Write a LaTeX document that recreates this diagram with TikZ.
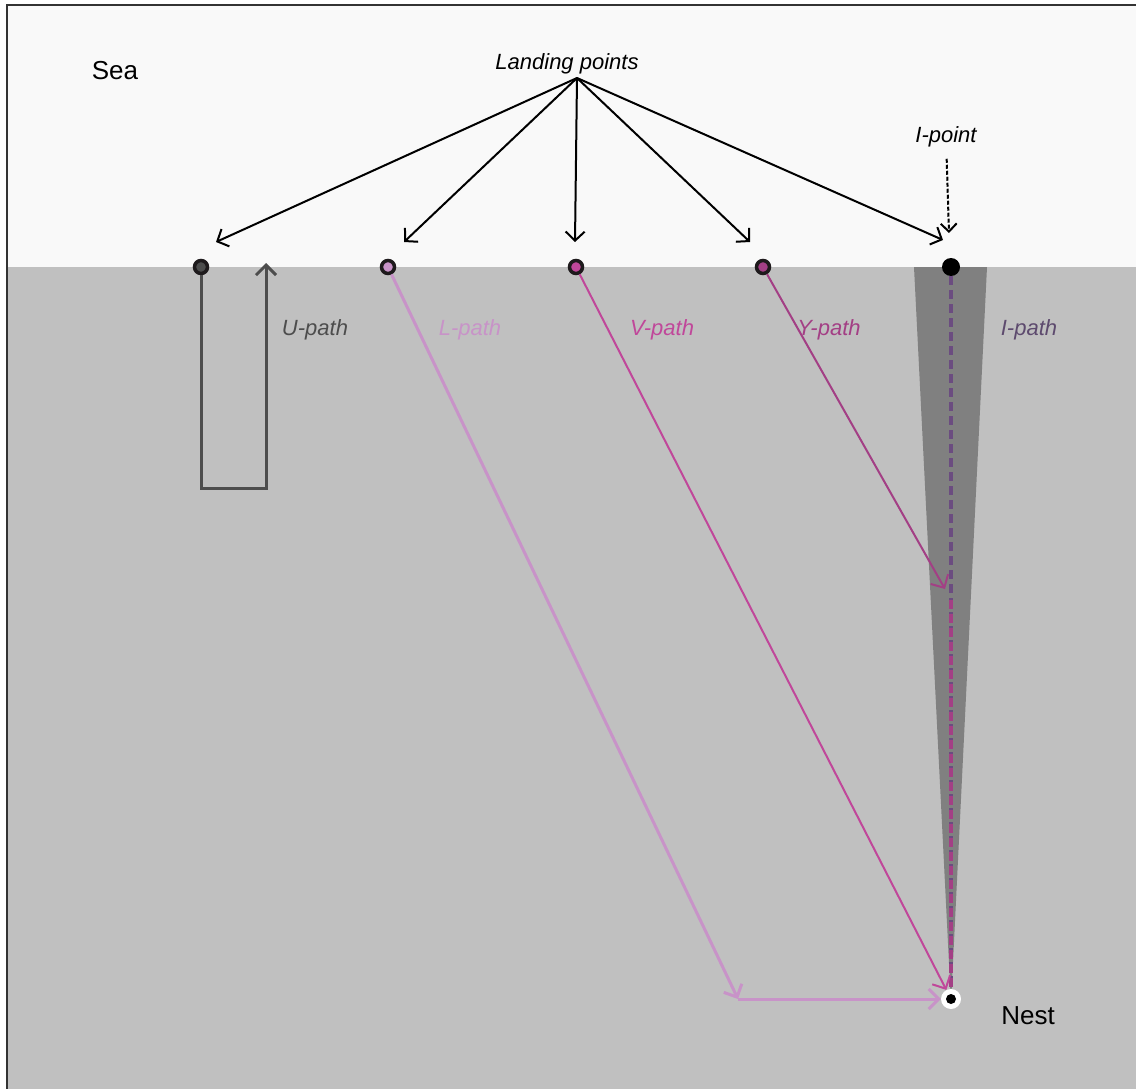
\documentclass[tikz,border=0pt]{standalone}
\usepackage{fontspec}
\setmainfont{Liberation Sans}
\usetikzlibrary{arrows.meta}
\definecolor{seacol}{HTML}{F9F9F9}
\definecolor{landcol}{HTML}{C0C0C0}
\definecolor{framecol}{HTML}{333333}
\definecolor{wedgecol}{HTML}{808080}
\definecolor{ucol}{HTML}{4D4D4D}
\definecolor{lcol}{HTML}{C893C8}
\definecolor{vcol}{HTML}{C0479A}
\definecolor{ycol}{HTML}{A33F85}
\definecolor{icol}{HTML}{6B4C80}
\definecolor{ilabel}{HTML}{5D4A6E}
\definecolor{dotring}{HTML}{1E1A1C}
\begin{document}
\begin{tikzpicture}[x=1pt,y=-1pt,
  ldot/.style={circle, draw=dotring, line width=3.5pt, minimum size=13pt, inner sep=0pt},
  lbl/.style={font=\fontsize{22}{24}\selectfont\itshape, anchor=base, inner sep=0pt},
  big/.style={font=\fontsize{26}{28}\selectfont, anchor=base, inner sep=0pt},
  ptr/.style={black, line width=2pt, -{Straight Barb[length=9pt,width=19pt]}},
  tipb/.style={-{Straight Barb[length=10pt,width=20pt]}}
]
\useasboundingbox (0,0) rectangle (1136,1089);
\fill[white] (0,0) rectangle (1136,1089);
\fill[seacol] (8,5) rectangle (1136,267);
\fill[landcol] (8,267) rectangle (1136,1089);
\draw[framecol, line width=2.5pt] (7,1089) -- (7,5) -- (1136,5);

% I-path wedge
\fill[wedgecol] (914,267) -- (987,267) -- (951,1003) -- cycle;

% texts
\node[big] (sea) at (115,80) {Sea};
\node[big] (nestlbl) at (1028,1024) {Nest};
\node[lbl] (landing) at (567,70) {Landing points};
\node[lbl] (ipoint) at (946,143) {I-point};
\node[lbl, text=ucol] (ulbl) at (315,335) {U-path};
\node[lbl, text=lcol] (llbl) at (470,335) {L-path};
\node[lbl, text=vcol] (vlbl) at (662,335) {V-path};
\node[lbl, text=ycol] (ylbl) at (829,335) {Y-path};
\node[lbl, text=ilabel] (ilbl) at (1029,335) {I-path};

% nest
\node[circle, fill=white, minimum size=20pt, inner sep=0pt,
  path picture={\fill[black] (path picture bounding box.center) circle (5pt);}] (nest) at (951,999) {};

% coordinates
\coordinate (hub) at (577,78);
\coordinate (tU) at (216,242);
\coordinate (tL) at (404,242);
\coordinate (tV) at (575,242);
\coordinate (tY) at (750,242);
\coordinate (tI) at (943,240);
\coordinate (tIp) at (949,233);
\coordinate (ubot) at (233,488);
\coordinate (uend) at (266,263);
\coordinate (lturn) at (738,999);
\coordinate (yjoin) at (945,589);
\coordinate (ydash) at (951,600);

% I-path dashed
\node[circle, fill=black, minimum size=18pt, inner sep=0pt] (dI) at (951,267) {};
\draw[icol, line width=4.5pt, dash pattern=on 9pt off 5pt] (dI) -- (nest);
\draw[ycol, line width=3.5pt, dash pattern=on 9pt off 5pt] (ydash) -- (nest);

% landing dots
\node[ldot, fill=ucol] (dU) at (201,267) {};
\node[ldot, fill=lcol] (dL) at (388,267) {};
\node[ldot, fill=vcol] (dV) at (576,267) {};
\node[ldot, fill=ycol] (dY) at (763,267) {};

% landing arrows
\draw[ptr] (hub) -- (tU);
\draw[ptr] (hub) -- (tL);
\draw[ptr] (hub) -- (tV);
\draw[ptr] (hub) -- (tY);
\draw[ptr] (hub) -- (tI);
\draw[ptr, line width=2pt, dash pattern=on 4pt off 2pt, -{Straight Barb[length=8pt,width=16pt]}, shorten <=11pt] (ipoint) -- (tIp);

% U-path
\draw[ucol, line width=3pt, tipb] (dU) |- (ubot) -| (uend);
% L-path
\draw[lcol, line width=3pt, tipb] (dL) -- (lturn);
\draw[lcol, line width=3pt, tipb] (lturn) -- (nest);
% V-path
\draw[vcol, line width=2pt, tipb] (dV) -- (nest);
% Y-path
\draw[ycol, line width=2pt, tipb] (dY) -- (yjoin);
\end{tikzpicture}
\end{document}
